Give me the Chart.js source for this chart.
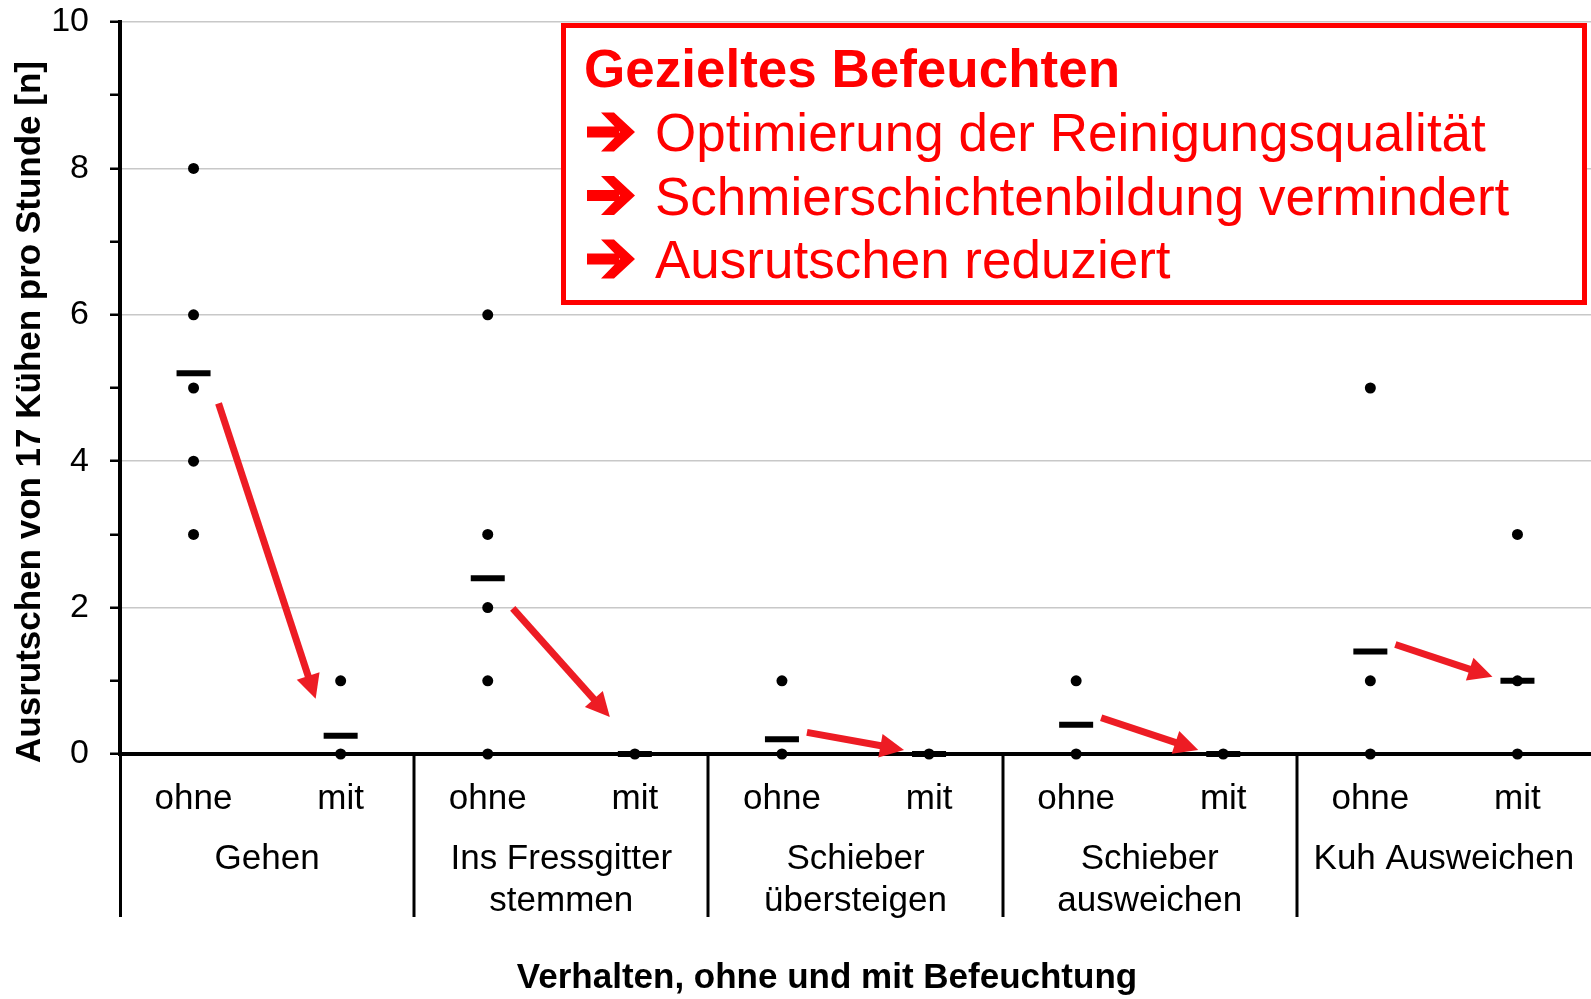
<!DOCTYPE html>
<html lang="de">
<head>
<meta charset="UTF-8">
<title>Ausrutschen ohne und mit Befeuchtung</title>
<style>
    html, body { margin: 0; padding: 0; background: #fff; overflow: hidden; }
    .chart-box { position: relative; width: 1591px; height: 999px; }
</style>
</head>
<body>
<div class="chart-box"><canvas id="slips"></canvas></div>
<script src="https://cdn.jsdelivr.net/npm/chart.js"></script>
<script>
// groups (behaviour) and conditions (without / with wetting)
const groups = [['Gehen'], ['Ins Fressgitter', 'stemmen'], ['Schieber', 'übersteigen'], ['Schieber', 'ausweichen'], ['Kuh Ausweichen']];
const conditions = ['ohne', 'mit'];

// single observations per group
const valuesOhne = [[8, 6, 5, 4, 3], [6, 3, 2, 1, 0], [1, 0], [1, 0], [5, 1, 0]];
const valuesMit = [[1, 0], [0], [0], [0], [3, 1, 0]];

// means, drawn as dashes
const meanOhne = [5.2, 2.4, 0.2, 0.4, 1.4];
const meanMit = [0.25, 0, 0, 0, 1.0];

const yLabels = [0, 2, 4, 6, 8, 10];

const yTitle = 'Ausrutschen von 17 Kühen pro Stunde [n]';
const xTitle = 'Verhalten, ohne und mit Befeuchtung';
const boxTitle = 'Gezieltes Befeuchten';
const boxLines = ['Optimierung der Reinigungsqualität', 'Schmierschichtenbildung vermindert', 'Ausrutschen reduziert'];

const RED = '#ed1c24';
const FONT = "'Liberation Sans', Arial, sans-serif";

// build point data
var dots = [];
var means = [];
for (var g = 0; g < groups.length; g++) {
    valuesOhne[g].forEach(function (v) { dots.push({ x: 2 * g, y: v }); });
    valuesMit[g].forEach(function (v) { dots.push({ x: 2 * g + 1, y: v }); });
    means.push({ x: 2 * g, y: meanOhne[g] });
    means.push({ x: 2 * g + 1, y: meanMit[g] });
}

Chart.defaults.font.family = FONT;
Chart.defaults.color = '#000';

function drawArrow(ctx, sx, sy, ex, ey) {
    var ang = Math.atan2(ey - sy, ex - sx);
    var headLen = 24, headW = 12;
    var bx = ex - headLen * Math.cos(ang), by = ey - headLen * Math.sin(ang);
    ctx.strokeStyle = RED;
    ctx.fillStyle = RED;
    ctx.lineWidth = 7;
    ctx.beginPath();
    ctx.moveTo(sx, sy);
    ctx.lineTo(bx + 2 * Math.cos(ang), by + 2 * Math.sin(ang));
    ctx.stroke();
    ctx.beginPath();
    ctx.moveTo(ex, ey);
    ctx.lineTo(bx + headW * Math.sin(ang), by - headW * Math.cos(ang));
    ctx.lineTo(bx - headW * Math.sin(ang), by + headW * Math.cos(ang));
    ctx.closePath();
    ctx.fill();
}

// heavy wide-headed arrow bullet, left edge x, vertical centre y
function drawBullet(ctx, x, y) {
    ctx.beginPath();
    ctx.rect(x, y - 5.5, 32, 11);
    ctx.moveTo(x + 14, y - 19.5);
    ctx.lineTo(x + 27, y - 19.5);
    ctx.lineTo(x + 48, y);
    ctx.lineTo(x + 27, y + 19.5);
    ctx.lineTo(x + 14, y + 19.5);
    ctx.lineTo(x + 33, y);
    ctx.closePath();
    ctx.fill();
}

// no label overhang padding: the plot runs to the canvas edge
function noPad(s) {
    s.paddingLeft = 0;
    s.paddingRight = 0;
    s.paddingTop = 0;
    s.paddingBottom = 0;
}

// arrows between means, group dividers, axis titles and the red text box
const extras = {
    id: 'extras',
    afterDatasetsDraw: function (chart) {
        var ctx = chart.ctx;
        var xs = chart.scales.x, ys = chart.scales.y;
        ctx.save();
        for (var g = 0; g < groups.length; g++) {
            var x1 = xs.getPixelForValue(2 * g), y1 = ys.getPixelForValue(meanOhne[g]);
            var x2 = xs.getPixelForValue(2 * g + 1), y2 = ys.getPixelForValue(meanMit[g]);
            var steep = (y2 - y1) / (x2 - x1) > 1;
            var sx = x1 + 25, sy = y1 + (steep ? 30 : -7);
            var ex = x2 - 25, ey = y2 + (steep ? -37 : -4);
            drawArrow(ctx, sx, sy, ex, ey);
        }
        // text box
        ctx.lineWidth = 5;
        ctx.strokeStyle = '#ff0000';
        ctx.fillStyle = '#fff';
        ctx.fillRect(563, 25, 1022, 278);
        ctx.strokeRect(563.5, 25.5, 1021, 277);
        ctx.fillStyle = '#ff0000';
        ctx.textBaseline = 'alphabetic';
        ctx.textAlign = 'left';
        ctx.font = 'bold 53px ' + FONT;
        ctx.fillText(boxTitle, 584, 87);
        ctx.font = '53px ' + FONT;
        for (var i = 0; i < boxLines.length; i++) {
            var base = 151 + i * 63.5;
            drawBullet(ctx, 587, base - 19);
            ctx.fillText(boxLines[i], 655, base);
        }
        ctx.restore();
    },
    afterDraw: function (chart) {
        var ctx = chart.ctx;
        var xs = chart.scales.x, x2s = chart.scales.x2;
        ctx.save();
        ctx.strokeStyle = '#000';
        ctx.lineWidth = 3;
        for (var g = 0; g < groups.length; g++) {
            var px = Math.round(xs.getPixelForValue(2 * g - 0.5));
            if (g === 0) px += 0.5;
            ctx.beginPath();
            ctx.moveTo(px, xs.top);
            ctx.lineTo(px, x2s.top + 99);
            ctx.stroke();
        }
        // axis titles
        ctx.fillStyle = '#000';
        ctx.font = 'bold 35px ' + FONT;
        ctx.textAlign = 'center';
        ctx.textBaseline = 'middle';
        ctx.fillText(xTitle, 827, 978);
        ctx.translate(30, 412);
        ctx.rotate(-Math.PI / 2);
        ctx.fillText(yTitle, 0, 0);
        ctx.restore();
    }
};

new Chart(document.getElementById('slips'), {
    type: 'scatter',
    data: {
        datasets: [{
            label: 'Mittelwert',
            data: means,
            pointStyle: 'line',
            pointRadius: 17,
            borderWidth: 6,
            borderColor: '#000',
            backgroundColor: '#000',
            clip: false
        }, {
            label: 'Einzelwerte',
            data: dots,
            pointRadius: 5.5,
            borderWidth: 0,
            backgroundColor: '#000',
            borderColor: '#000',
            clip: false
        }]
    },
    options: {
        responsive: true,
        maintainAspectRatio: false,
        animation: false,
        events: [],
        layout: { autoPadding: false, padding: { top: 22, right: 0, bottom: 0, left: 0 } },
        plugins: {
            legend: { display: false },
            tooltip: { enabled: false }
        },
        scales: {
            x: {
                type: 'linear',
                position: 'bottom',
                min: -0.5,
                max: 9.5,
                weight: 0,
                afterBuildTicks: function (s) {
                    s.ticks = [];
                    for (var i = 0; i < groups.length * 2; i++) s.ticks.push({ value: i });
                },
                afterFit: function (s) { s.height = 64; noPad(s); },
                ticks: {
                    autoSkip: false,
                    maxRotation: 0,
                    padding: 16,
                    font: { size: 35 },
                    callback: function (v) { return conditions[v % 2]; }
                },
                grid: { display: false },
                border: { display: true, color: '#000', width: 4 }
            },
            x2: {
                type: 'linear',
                position: 'bottom',
                min: -0.5,
                max: 9.5,
                weight: 1,
                afterBuildTicks: function (s) {
                    s.ticks = [];
                    for (var i = 0; i < groups.length; i++) s.ticks.push({ value: 2 * i + 0.5 });
                },
                afterFit: function (s) { s.height = 181; noPad(s); },
                ticks: {
                    autoSkip: false,
                    maxRotation: 0,
                    padding: 12,
                    font: { size: 35 },
                    callback: function (v) { return groups[Math.round((v - 0.5) / 2)]; }
                },
                grid: { display: false },
                border: { display: false }
            },
            y: {
                min: 0,
                max: 10,
                afterBuildTicks: function (s) {
                    s.ticks = [];
                    for (var i = 0; i <= 10; i++) s.ticks.push({ value: i });
                },
                afterFit: function (s) { s.width = 120; noPad(s); },
                ticks: {
                    padding: 21,
                    font: { size: 34 },
                    callback: function (v) { return yLabels.indexOf(v) >= 0 ? v : ''; }
                },
                grid: {
                    color: function (c) {
                        var v = c.tick ? c.tick.value : 0;
                        return (v > 0 && v % 2 === 0) ? '#c8c8c8' : 'rgba(0,0,0,0)';
                    },
                    lineWidth: 1.5,
                    tickColor: '#000',
                    tickLength: 10,
                    tickWidth: 2.5
                },
                border: { display: true, color: '#000', width: 4 }
            }
        }
    },
    plugins: [extras]
});
</script>
</body>
</html>
